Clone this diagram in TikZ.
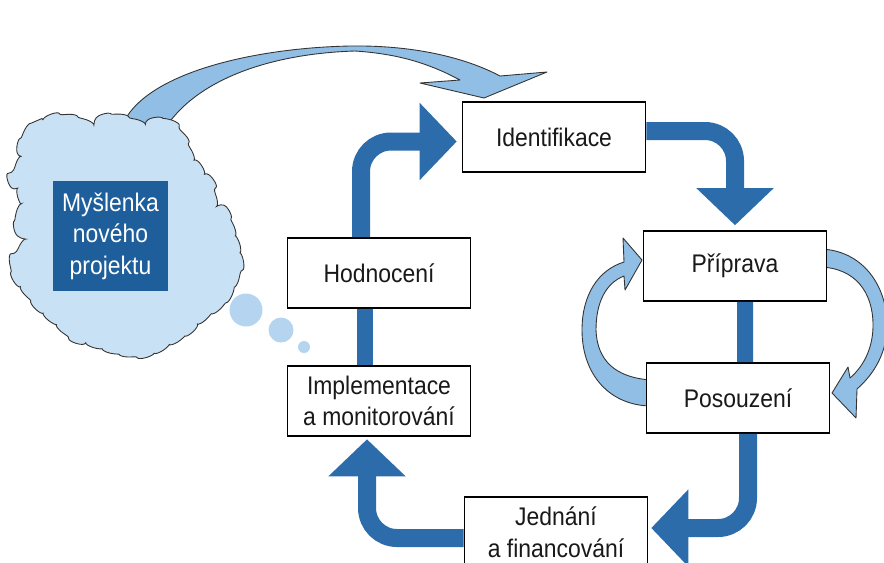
\documentclass[tikz,border=0pt]{standalone}
\usepackage{fontspec}
\setmainfont{Liberation Sans}[FakeStretch=0.9]
\usetikzlibrary{arrows.meta,decorations.pathmorphing}
\definecolor{cycblue}{RGB}{44,108,170}
\definecolor{lightarr}{RGB}{145,190,228}
\definecolor{cloudfill}{RGB}{200,225,245}
\definecolor{bubble}{RGB}{180,212,240}
\definecolor{ideabox}{RGB}{30,95,155}
\begin{document}
\begin{tikzpicture}[
  x=0.02cm, y=-0.02cm,
  b/.style={draw, line width=0.9pt, fill=white, text=black!90, minimum width=3.66cm, minimum height=1.4cm, align=center, inner sep=1pt, font=\fontsize{14.5}{18}\selectfont},
  c/.style={draw=cycblue, line width=0.36cm, rounded corners=0.6cm, -{Triangle[width=1.5cm,length=0.74cm]}},
  bar/.style={draw=cycblue, line width=0.32cm},
  l/.style={fill=lightarr, draw=black!80, line width=0.5pt, line join=round}
]
\clip (0,0) rectangle (884,562);

% big arrow from the thought to the cycle
\draw[l] (120,132) .. controls (135,75) and (250,48) .. (350,46)
  .. controls (420,45) and (470,60) .. (500,76) -- (547,72) -- (484,98) -- (420,83) -- (460,80)
  .. controls (430,64) and (400,54) .. (355,51)
  .. controls (260,54) and (190,85) .. (163,132) -- cycle;

% the cloud
\draw[fill=cloudfill, draw=black!80, line width=0.5pt, decorate, decoration={bumps, segment length=0.7cm, amplitude=0.05cm}]
  plot[smooth cycle, tension=0.7] coordinates {
  (27,133) (43,120) (67,117) (87,121) (110,116) (140,122) (160,119) (177,130) (187,147) (197,163)
  (208,177) (213,193) (222,204) (228,218) (234,234) (240,257) (238,273) (233,287) (226,300) (213,310)
  (201,321) (187,333) (170,343) (153,353) (127,354) (100,347) (77,340) (57,324) (43,313) (33,300)
  (20,287) (13,267) (20,247) (16,223) (23,207) (13,187) (17,167) (20,147)};
\node[fill=ideabox, text=white, minimum width=2.3cm, minimum height=2.2cm, align=center, inner sep=1pt, font=\fontsize{14.5}{18}\selectfont] (idea) at (110.5,236) {Myšlenka\\nového\\projektu};
\fill[bubble] (246,310) circle[radius=0.33cm];
\fill[bubble] (281,330) circle[radius=0.25cm];
\fill[bubble] (304,347) circle[radius=0.12cm];

% loops between preparation and appraisal
\draw[l] (652,380) .. controls (615,378) and (597,360) .. (596,330)
  .. controls (596,302) and (606,283) .. (624,276) -- (625,290) -- (642,260) -- (623,238) -- (624,262)
  .. controls (598,270) and (582,295) .. (582,330) .. controls (582,375) and (610,406) .. (652,406) -- cycle;
\draw[l] (820,249) .. controls (862,250) and (887,285) .. (887,325)
  .. controls (887,352) and (875,373) .. (857,389) -- (856,418) -- (832,393) -- (848,367) -- (850,378)
  .. controls (866,364) and (873,345) .. (873,325) .. controls (873,292) and (855,268) .. (820,267) -- cycle;

% project cycle
\node[b] (ident) at (554,137) {Identifikace};
\node[b] (prip) at (735,266) {Příprava};
\node[b] (pos) at (738,398) {Posouzení};
\node[b] (jed) at (556,532) {Jednání\\a financování};
\node[b] (hod) at (379,273) {Hodnocení};
\node[b] (imp) at (379,401) {Implementace\\a monitorování};

\draw[c] ([yshift=1.2mm]ident.east) -| ([yshift=1mm]prip.north);
\draw[bar] ([xshift=2mm]prip.south) -- ([xshift=1.4mm]pos.north);
\draw[c] ([xshift=2mm]pos.south) |- ([xshift=0.6mm,yshift=0.8mm]jed.east);
\draw[c] ([yshift=-1.2mm]jed.west) -| ([xshift=-2.4mm,yshift=-0.05cm]imp.south);
\draw[bar] ([xshift=-2.9mm]imp.north) -- ([xshift=-2.9mm]hod.south);
\draw[c] ([xshift=-3.6mm]hod.north) |- ([xshift=-1mm,yshift=-0.9mm]ident.west);

\end{tikzpicture}
\end{document}
